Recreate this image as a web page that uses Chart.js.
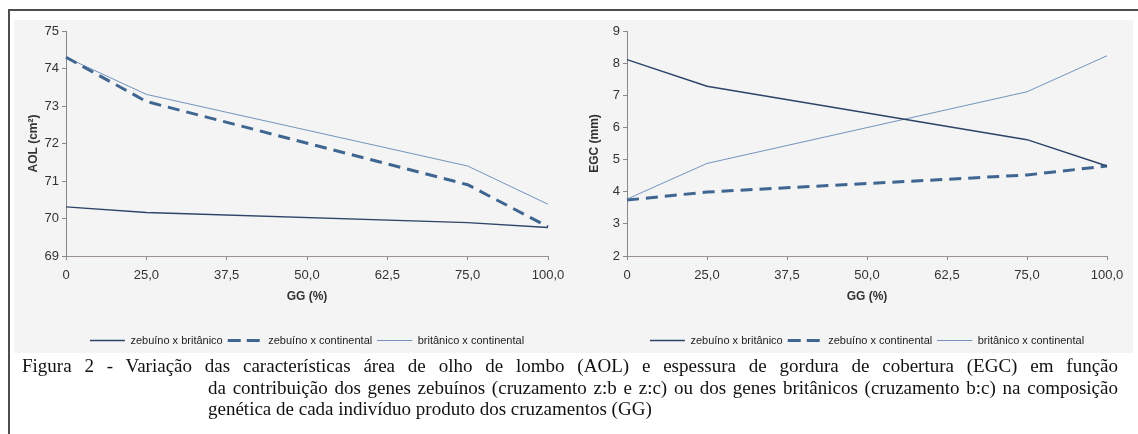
<!DOCTYPE html>
<html>
<head>
<meta charset="utf-8">
<script src="https://cdn.jsdelivr.net/npm/chart.js@4"></script>
<style>
  html, body { margin: 0; padding: 0; background: #fff; overflow: hidden; }
  body { width: 1138px; height: 434px; position: relative; }
  .frame { position: absolute; left: 8px; top: 9px; width: 1200px; height: 500px;
           border-left: 2px solid #4d4d4d; border-top: 2px solid #4d4d4d; }
  .band { position: absolute; left: 14px; top: 20px; width: 1119px; height: 333px; background: #f4f4f4; }
  .box { position: absolute; top: 18px; width: 560px; height: 338px; }
  .caption { position: absolute; left: 22px; top: 355px; width: 1096px;
             font-family: 'Liberation Serif', 'Times New Roman', serif; font-size: 19px;
             line-height: 21.5px; color: #111; }
  .caption span { display: block; }
  .caption .j { text-align: justify; text-align-last: justify; }
  .caption .ind { padding-left: 186px; }
</style>
</head>
<body>
<div class="frame"></div>
<div class="band"></div>
<div class="box" style="left:14px"><canvas id="aolChart"></canvas></div>
<div class="box" style="left:574px"><canvas id="egcChart"></canvas></div>
<div class="caption">
  <span class="j">Figura 2 - Variação das características área de olho de lombo (AOL) e espessura de gordura de cobertura (EGC) em função</span>
  <span class="j ind">da contribuição dos genes zebuínos (cruzamento z:b e z:c) ou dos genes britânicos (cruzamento b:c) na composição</span>
  <span class="ind">genética de cada indivíduo produto dos cruzamentos (GG)</span>
</div>
<script>
// Dados (null = sem ponto, linha reta entre vizinhos)
const categorias = ['0', '25,0', '37,5', '50,0', '62,5', '75,0', '100,0'];
const nomesSeries = ['zebuíno x britânico', 'zebuíno x continental', 'britânico x continental'];

const aolZebBrit = [70.31, 70.16, null, null, null, 69.89, 69.76];
const aolZebCont = [74.30, 73.12, null, null, null, 70.90, 69.78];
const aolBritCont = [74.30, 73.31, null, null, null, 71.40, 70.38];

const egcZebBrit = [8.11, 7.28, null, null, null, 5.62, 4.80];
const egcZebCont = [3.74, 3.99, null, null, null, 4.52, 4.80];
const egcBritCont = [3.77, 4.88, null, null, null, 7.11, 8.23];

const aolTicks = [69, 75];
const egcTicks = [2, 9];

const fonte = "'Liberation Sans', Arial, sans-serif";

function montaSeries(a, b, c) {
    return [
        { label: nomesSeries[0], data: a, borderColor: '#2e4468', backgroundColor: '#2e4468',
          borderWidth: 1.5, pointRadius: 0, spanGaps: true, tension: 0 },
        { label: nomesSeries[1], data: b, borderColor: '#3f6690', backgroundColor: '#3f6690',
          borderWidth: 3, borderDash: [12, 7], pointRadius: 0, spanGaps: true, tension: 0 },
        { label: nomesSeries[2], data: c, borderColor: '#7393bd', backgroundColor: '#7393bd',
          borderWidth: 1, pointRadius: 0, spanGaps: true, tension: 0 }
    ];
}

function criaGrafico(id, titulo, limites, series, padLeft, padRight) {
    const ctx = document.getElementById(id).getContext('2d');
    return new Chart(ctx, {
        type: 'line',
        data: { labels: categorias, datasets: series },
        options: {
            responsive: true,
            maintainAspectRatio: false,
            animation: false,
            layout: { padding: { top: 13, left: padLeft, right: padRight, bottom: 0 } },
            plugins: {
                tooltip: { enabled: false },
                legend: {
                    position: 'bottom',
                    fullSize: false,
                    labels: {
                        boxWidth: 35,
                        boxHeight: 0,
                        padding: 5,
                        color: '#222',
                        font: { family: fonte, size: 11 }
                    }
                }
            },
            scales: {
                x: {
                    offset: false,
                    afterFit: s => { s.height = 74; },
                    border: { color: '#9a9096', width: 1 },
                    grid: { drawOnChartArea: false, drawTicks: true, tickLength: 4, color: '#888' },
                    ticks: { color: '#333', padding: 8, maxRotation: 0, autoSkip: false,
                             font: { family: fonte, size: 13 } },
                    title: { display: true, text: 'GG (%)', color: '#333',
                             padding: { top: 0, bottom: 26 },
                             font: { family: fonte, size: 12, weight: 'bold' } }
                },
                y: {
                    min: limites[0],
                    max: limites[1],
                    afterFit: s => { s.width = 40; },
                    border: { color: '#888', width: 1 },
                    grid: { drawOnChartArea: false, drawTicks: true, tickLength: 4, color: '#888' },
                    ticks: { stepSize: 1, color: '#333', padding: 3,
                             font: { family: fonte, size: 13 } },
                    title: { display: true, text: titulo, color: '#333',
                             padding: { top: 0, bottom: 0 },
                             font: { family: fonte, size: 12, weight: 'bold' } }
                }
            }
        }
    });
}

criaGrafico('aolChart', 'AOL (cm²)', aolTicks, montaSeries(aolZebBrit, aolZebCont, aolBritCont), 12, 26);
criaGrafico('egcChart', 'EGC (mm)', egcTicks, montaSeries(egcZebBrit, egcZebCont, egcBritCont), 13, 27);
</script>
</body>
</html>
